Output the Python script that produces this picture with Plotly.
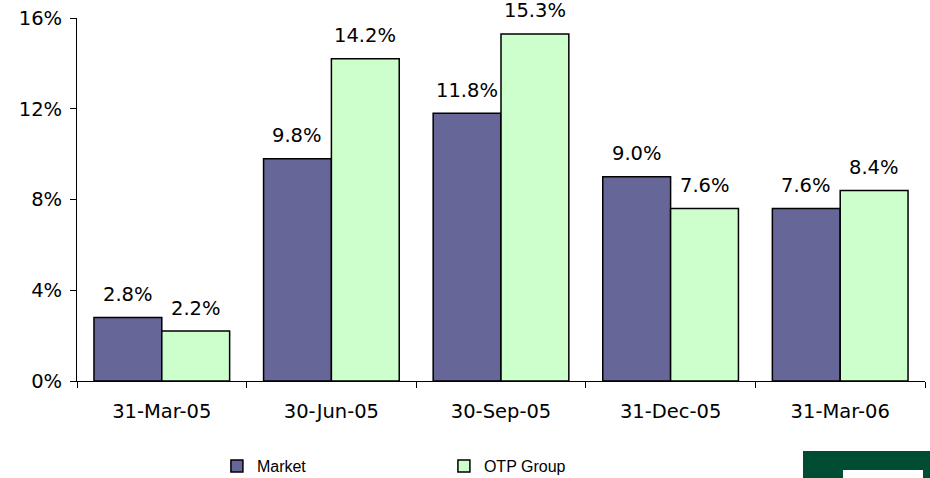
import plotly.graph_objects as go

categories = ["31-Mar-05", "30-Jun-05", "30-Sep-05", "31-Dec-05", "31-Mar-06"]
market = [2.8, 9.8, 11.8, 9.0, 7.6]
otp = [2.2, 14.2, 15.3, 7.6, 8.4]
y_ticks = [0, 4, 8, 12, 16]

FONT = "DejaVu Sans"
FS = 19.5
W, H = 930, 478
L, T, R, B = 77, 18, 5, 97
PW, PH = W - L - R, H - T - B

fig = go.Figure()
fig.add_trace(go.Bar(name="Market", x=categories, y=market,
                     marker=dict(color="#666699", line=dict(color="black", width=1.5))))
fig.add_trace(go.Bar(name="OTP Group", x=categories, y=otp,
                     marker=dict(color="#CCFFCC", line=dict(color="black", width=1.5))))

annotations = []
for i, (m, o) in enumerate(zip(market, otp)):
    for off, v in ((-0.2, m), (0.2, o)):
        annotations.append(dict(x=i + off, y=v, xref="x", yref="y", text=f"{v:.1f}%",
                                showarrow=False, yanchor="middle", yshift=23,
                                font=dict(family=FONT, size=FS, color="black")))

fig.update_layout(
    width=W, height=H,
    margin=dict(l=L, r=R, t=T, b=B, autoexpand=False),
    paper_bgcolor="white", plot_bgcolor="white",
    barmode="group", bargap=0.2, bargroupgap=0,
    font=dict(family=FONT, size=FS, color="black"),
    annotations=annotations,
    showlegend=True,
    legend=dict(orientation="h", x=0.165, xanchor="left", y=-(466 - (H - B)) / PH, yanchor="middle",
                entrywidth=182, itemwidth=30,
                font=dict(family="Liberation Sans", size=16)),
    xaxis=dict(showline=True, linecolor="black", linewidth=1, ticks="outside",
               tickson="boundaries", ticklen=6, tickcolor="black", showgrid=False,
               ticklabelstandoff=13, automargin=False),
    yaxis=dict(range=[0, 16], tickvals=y_ticks, ticktext=[f"{t}%" for t in y_ticks],
               showline=True, linecolor="black", linewidth=1, ticks="outside", ticklen=6,
               tickcolor="black", showgrid=False, zeroline=False, automargin=False,
               ticklabeloverflow="allow", ticklabelstandoff=4),
)

def px_x(x):
    return (x - L) / PW

def px_y(y):
    return (H - B - y) / PH

# logo block (bottom right)
fig.add_shape(type="rect", xref="paper", yref="paper",
              x0=px_x(803), x1=px_x(931), y0=px_y(479), y1=px_y(451),
              fillcolor="#004d33", line=dict(width=0), layer="above")
fig.add_shape(type="rect", xref="paper", yref="paper",
              x0=px_x(843), x1=px_x(923), y0=px_y(479), y1=px_y(470),
              fillcolor="white", line=dict(width=0), layer="above")

fig.write_html("out.html", config={"displayModeBar": False},
               post_script="document.body.style.margin='0';")
